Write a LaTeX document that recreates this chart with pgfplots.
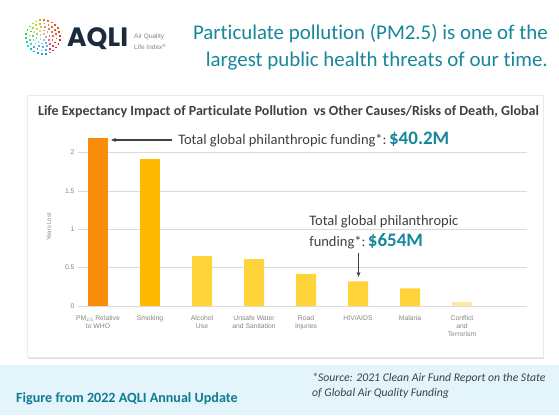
\documentclass[border=0pt]{standalone}
\usepackage{pgfplots}
\pgfplotsset{compat=1.18}
\usepackage{fontspec}
\setmainfont{Carlito}[Ligatures={NoCommon}]
\newfontfamily\helv{Liberation Sans}
\newfontfamily\pop{Poppins}
\usetikzlibrary{arrows.meta,shadows}
\definecolor{teal1}{HTML}{17879B}
\definecolor{teal2}{HTML}{0F7D90}
\definecolor{txtgray}{HTML}{404040}
\definecolor{tickgray}{HTML}{858585}
\definecolor{gridgray}{HTML}{DADADA}
\definecolor{bandblue}{HTML}{E3F4FB}
\definecolor{logonavy}{HTML}{1C2B3C}
\definecolor{cPM}{HTML}{FA8C0C}
\definecolor{cSmk}{HTML}{FFB901}
\definecolor{cOth}{HTML}{FFD43B}
\definecolor{cCon}{HTML}{FFE8A6}
\begin{document}
\begin{tikzpicture}[x=1pt,y=1pt]
\useasboundingbox (0,0) rectangle (559,415);
\fill[white] (0,0) rectangle (559,415);
\fill[bandblue] (0,0) rectangle (559,50);
% card
\draw[draw=black!8, fill=white, drop shadow={shadow xshift=1pt,shadow yshift=-1.5pt,opacity=0.3,fill=black!45}] (27.5,58) rectangle (542.7,319.3);
% logo dots
\foreach \rr/\nn/\oo in {3/5/0, 6.5/10/10, 10/15/5, 13.5/20/12, 17/26/3} {
  \foreach \kk in {1,...,\nn} {
    \pgfmathsetmacro{\ang}{mod(360*\kk/\nn+\oo,360)}
    \pgfmathsetmacro{\hue}{\ang<90 ? 0.02+0.07*\ang/90 : (\ang<150 ? 0.09+0.19*(\ang-90)/60 : (\ang<230 ? 0.28+0.27*(\ang-150)/80 : (\ang<300 ? 0.55 : 0.0)))}
    \pgfmathsetmacro{\sat}{0.2+0.65*\rr/17}
    \definecolor{dc}{hsb}{\hue,\sat,0.85}
    \fill[dc] ({43+\rr*cos(\ang)-0.9},{378+\rr*sin(\ang)-0.9}) rectangle ++(1.8,1.8);
  }
}
\node[anchor=base west, inner sep=0, text=logonavy, font=\pop\bfseries\fontsize{26.5}{28}\selectfont] at (67,368) {AQLI};
\node[anchor=base west, inner sep=0, text=tickgray, font=\helv\fontsize{6.5}{7}\selectfont] at (134,376) {Air Quality};
\node[anchor=base west, inner sep=0, text=tickgray, font=\helv\fontsize{6.5}{7}\selectfont] at (134,365) {Life Index\textsuperscript{®}};
% headline
\node[anchor=base east, inner sep=0, text=teal1, font=\fontsize{20.9}{24}\selectfont] at (548,375) {Particulate pollution (PM2.5) is one of the};
\node[anchor=base east, inner sep=0, text=teal1, font=\fontsize{20.9}{24}\selectfont] at (548,348) {largest public health threats of our time.};
% chart title
\node[anchor=base, inner sep=0, text=txtgray, font=\bfseries\fontsize{14}{16}\selectfont] at (288.5,299) {Life Expectancy Impact of Particulate Pollution\ \ vs Other Causes/Risks of Death, Global};
% footer
\node[anchor=base west, inner sep=0, text=teal2, font=\bfseries\fontsize{14.1}{16}\selectfont] at (16,13) {Figure from 2022 AQLI Annual Update};
\node[anchor=base west, inner sep=0, text=txtgray, font=\itshape\fontsize{11.7}{13}\selectfont] at (312,34) {*Source: 2021 Clean Air Fund Report on the State};
\node[anchor=base west, inner sep=0, text=txtgray, font=\itshape\fontsize{11.7}{13}\selectfont] at (312,19) {of Global Air Quality Funding};
\begin{axis}[
  at={(78pt,109pt)}, anchor=south west, scale only axis,
  width=449pt, height=176.4pt,
  xmin=-0.385, xmax=8.25, ymin=0, ymax=2.3,
  clip=false,
  axis line style={draw=none}, tick style={draw=none},
  ymajorgrids, grid style={gridgray, line width=0.8pt},
  ytick={0,0.5,1,1.5,2},
  xtick={0,1,2,3,4,5,6,7},
  xticklabels={{PM\textsubscript{2.5} Relative\\to WHO}, Smoking, {Alcohol\\Use}, {Unsafe Water\\and Sanitation}, {Road\\Injuries}, HIV/AIDS, Malaria, {Conflict\\and\\Terrorism}},
  /pgf/number format/assume math mode=true,
  yticklabel style={font=\helv\fontsize{6.8}{8}\selectfont, text=tickgray},
  xticklabel style={font=\helv\fontsize{6.8}{8}\selectfont, text=tickgray, align=center, yshift=-2pt},
  ylabel={Years Lost},
  ylabel style={at={(axis description cs:-0.065,0.448)}, anchor=center, font=\helv\fontsize{5.8}{7}\selectfont, text=tickgray},
  ybar, bar width=20pt,
]
\addplot[fill=cPM, draw=none, bar shift=0pt] coordinates {(0,2.19)};
\addplot[fill=cSmk, draw=none, bar shift=0pt] coordinates {(1,1.92)};
\addplot[fill=cOth, draw=none, bar shift=0pt] coordinates {(2,0.65) (3,0.61) (4,0.42) (5,0.32) (6,0.23)};
\addplot[fill=cCon, draw=none, bar shift=0pt] coordinates {(7,0.05)};
% annotations
\draw[-{Stealth[length=5pt,width=4pt]}, line width=1.3pt, black!75] (axis cs:1.42,2.165) -- (axis cs:0.25,2.165);
\node[anchor=base west, inner sep=0, text=txtgray, font=\fontsize{14.5}{16}\selectfont] at (axis cs:1.54,2.10) {Total global philanthropic funding*:\,\textcolor{teal1}{\bfseries\fontsize{19}{22}\selectfont \$40.2M}};
\node[anchor=base west, inner sep=0, text=txtgray, font=\fontsize{14.5}{16}\selectfont] at (axis cs:4.06,1.045) {Total global philanthropic};
\node[anchor=base west, inner sep=0, text=txtgray, font=\fontsize{14.5}{16}\selectfont] at (axis cs:4.06,0.77) {funding*:\,\textcolor{teal1}{\bfseries\fontsize{19}{22}\selectfont \$654M}};
\draw[-{Stealth[length=5pt,width=4pt]}, line width=1.3pt, black!75] (axis cs:5.01,0.69) -- (axis cs:5.01,0.38);
\end{axis}
\end{tikzpicture}
\end{document}
